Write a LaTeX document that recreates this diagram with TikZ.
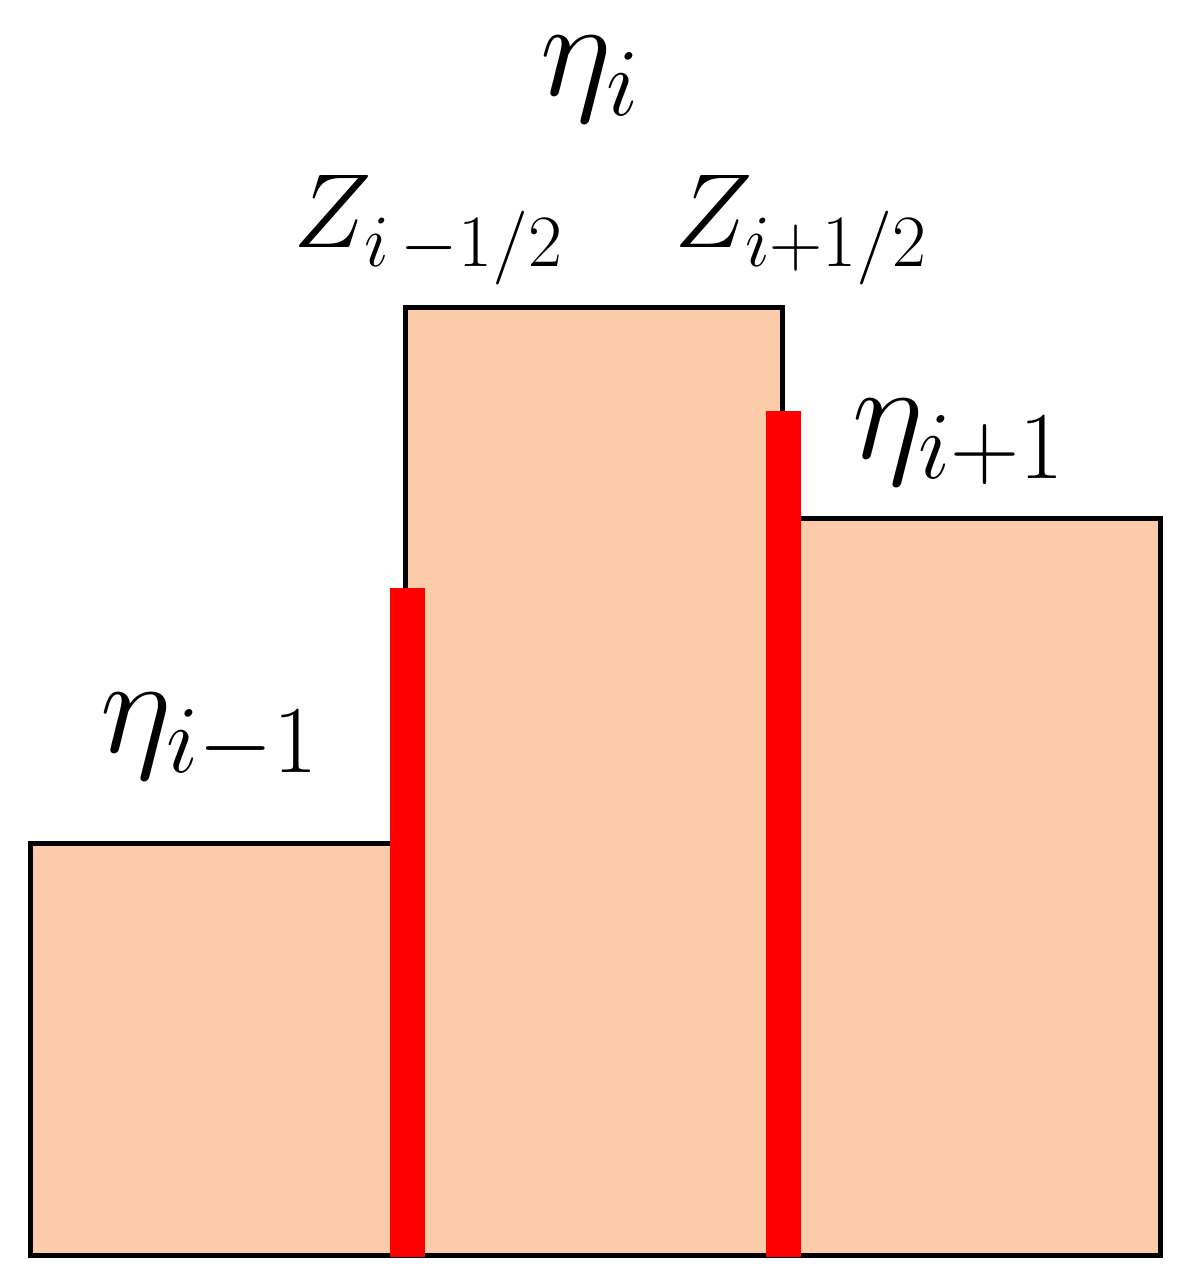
\RequirePackage{fix-cm}
\documentclass[tikz,border=0pt]{standalone}
\definecolor{peach}{RGB}{252,204,170}
\definecolor{barred}{RGB}{255,0,0}
\tikzset{
  outline/.style={draw=black,line width=0.1cm,line join=miter,fill=peach},
  redbar/.style={fill=barred,draw=none},
  etalabel/.style={inner sep=0pt,anchor=base west,font=\fontsize{78}{86}\selectfont},
  zlabel/.style={inner sep=0pt,anchor=base west,font=\fontsize{60}{68}\selectfont}
}
\begin{document}
\begin{tikzpicture}[x=0.02cm,y=-0.02cm]
\useasboundingbox (0,0) rectangle (1192,1288);
% blocks
\path[outline] (30,1255) -- (30,843) -- (405,843) -- (405,307) -- (782,307) -- (782,518) -- (1160,518) -- (1160,1255) -- cycle;
% red interfaces
\fill[redbar] (390,588) rectangle (425,1257);
\fill[redbar] (766,411) rectangle (801,1257);
% labels
\node[etalabel] (etai) at (540,95) {$\eta_i$};
\node[etalabel] (etaim) at (100,752) {$\eta_{i-1}$};
\node[etalabel] (etaip) at (852,458) {$\eta_{i+1}$};
\node[zlabel] (zm) at (293,247) {$Z_{i\,-1/2}$};
\node[zlabel] (zp) at (674,247) {$Z_{i+1/2}$};
\end{tikzpicture}
\end{document}
